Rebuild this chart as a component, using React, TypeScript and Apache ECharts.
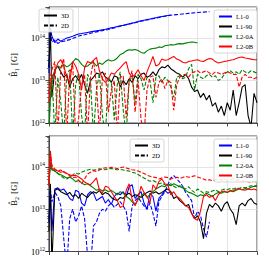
import React, { useEffect, useRef } from "react";
import * as echarts from "echarts";

// sample times (x axis has no labels; 7 equal intervals)
const T: number[] = [0, 0.05];
for (let k = 1; k <= 70; k++) T.push(k / 10);

const UNIT = 1e12; // values below are in units of 1e12 G

// ---- top panel (B1) ----
const top_L10_3D = [20, 180,
  110, 78, 95, 84, 92, 100, 105, 110, 118, 125,
  128, 132, 136, 140, 144, 148, 152, 157, 162, 168,
  174, 180, 187, 194, 200, 208, 216, 225, 234, 245,
  255, 264, 273, 282, 292, 302, 312, 322, 332, 342,
  350];
const top_L10_2D = [15, 140,
  80, 90, 75, 82, 84, 88, 92, 98, 105, 112,
  116, 120, 125, 130, 135, 140, 145, 150, 155, 160,
  167, 174, 182, 190, 198, 206, 214, 222, 231, 240,
  250, 258, 268, 277, 286, 296, 306, 316, 326, 336,
  346, 352, 358, 364, 370, 376, 382, 388, 394, 400,
  405, 410, 415, 420];
const top_L190_3D = [20, 160,
  4, 18, 22, 16, 12, 14, 7, 11, 13, 10,
  14, 8, 5, 10, 12, 15, 14, 16, 12, 11,
  9, 13, 12, 7, 10, 8, 11, 9, 13, 11,
  14, 15, 12, 13, 16, 13, 18, 21, 20, 23,
  19, 17, 15, 14, 12, 14, 11, 7, 5.5, 6,
  4, 5, 3.5, 4.5, 2.5, 3, 1.8, 2.5, 1.5, 3,
  2, 6, 1.5, 3, 7, 8, 1.5, 0.8, 5, 3];
const top_L20A_3D = [0.5, 4,
  10, 18, 22, 20, 24, 21, 23, 27, 33, 30,
  24, 21, 22, 25, 27, 22, 26, 24, 28, 31,
  29, 30, 34, 41, 44, 50, 53, 52, 54, 51,
  46, 44, 50, 55, 57, 58, 62, 60, 66, 68,
  70, 69, 72, 74, 73, 76, 79, 81, 80, 77];
const top_L20A_2D = [0.5, 6,
  15, 0.5, 12, 3, 0.5, 14, 18, 0.5, 8, 15,
  1.5, 0.5, 14, 10, 0.5, 6, 15, 1.5, 0.5, 12,
  9, 1.2, 8, 16, 2, 0.5, 10, 12, 3, 14,
  11, 6, 12, 10, 3, 12, 13, 9, 12, 10,
  7, 4, 12, 13, 11, 12, 19, 24, 6, 14,
  12, 11, 13, 14, 12, 13, 10, 11, 14, 16,
  17, 15, 16, 14, 18, 16, 15, 17, 16, 15];
const top_L20B_3D = [3, 8,
  12, 16, 26, 31, 22, 12, 9, 28, 22, 14,
  6, 20, 28, 26, 30, 35, 17, 11, 9, 11,
  15, 14, 17, 20, 24, 28, 15, 12, 14, 18,
  13, 10, 16, 24, 37, 22, 24, 32, 30, 31,
  34, 37, 32, 30, 27, 26, 28, 29, 30, 31,
  29, 28, 31, 33, 32, 28, 26, 27, 28, 29,
  30, 31, 33, 35, 36, 34, 33, 32, 31, 31];
const top_L20B_2D = [5, 12,
  18, 28, 0.5, 20, 33, 0.5, 15, 25, 0.5, 1.3,
  8, 14, 0.5, 12, 30, 8, 0.6, 12, 15, 1.8,
  6, 10, 0.5, 12, 13, 1.3, 10, 17, 1.8, 10,
  1.2, 0.5, 6, 12, 13, 4, 9, 11, 6.5, 10,
  9, 2, 8, 12, 13.5, 14, 12, 15, 16, 17,
  15, 16, 17, 15, 14, 16, 15, 14, 15, 16,
  15, 14, 14, 7, 12, 14, 12, 12, 11, 12];

// ---- bottom panel (B2) ----
const bot_L10_3D = [5, 28,
  3, 30, 32, 28, 30, 24, 18, 16, 28, 26,
  14, 12, 22, 26, 24, 16, 18, 20, 14, 17,
  13, 20, 24, 22, 26, 20, 34, 38, 18, 22,
  26, 14, 10, 24, 20, 9, 18, 22, 28, 24,
  26];
const bot_L10_2D = [6, 30,
  15, 25, 20, 12, 2, 0.4, 6, 10, 5, 7,
  12, 6, 0.8, 0.4, 4, 5, 8, 10, 9, 12,
  14, 11, 13, 15, 12, 9, 3, 12, 16, 19,
  15, 12, 10, 14, 8, 4, 15, 20, 26, 38,
  55, 62, 52, 44, 35, 25, 20, 16, 6, 9,
  7, 3.5, 2.2, 5];
const bot_L190_3D = [3, 40,
  0.5, 28, 30, 26, 24, 22, 25, 20, 22, 18,
  24, 21, 19, 23, 26, 24, 28, 22, 25, 23,
  19, 17, 16, 19, 18, 22, 24, 20, 22, 21,
  19, 22, 25, 27, 24, 26, 23, 25, 28, 30,
  26, 18, 20, 16, 14, 12, 13, 8, 6, 7,
  5, 2, 8, 13, 11, 14, 12, 9, 13, 15,
  10, 8, 4.3, 12, 14, 12, 16, 18, 14, 13];
const bot_L20A_3D = [38, 110,
  85, 80, 70, 65, 60, 55, 58, 52, 45, 48,
  42, 38, 40, 36, 32, 28, 30, 27, 29, 26,
  28, 25, 22, 26, 24, 20, 18, 15, 13, 17,
  20, 24, 19, 22, 26, 30, 33, 36, 34, 38,
  36, 40, 37, 34, 32, 28, 25, 24, 22, 20,
  22, 21, 24, 22, 20, 23, 25, 24, 26, 25,
  27, 26, 28, 30, 29, 31, 30, 33, 35, 34];
const bot_L20A_2D = [40, 130,
  90, 80, 70, 62, 55, 52, 58, 65, 72, 68,
  75, 80, 85, 88, 84, 86, 90, 88, 86, 90,
  92, 88, 86, 88, 85, 82, 80, 75, 72, 66,
  60, 55, 50, 46, 48, 44, 40, 42, 38, 36,
  40, 35, 32, 36, 33, 30, 34, 28, 25, 30,
  27, 24, 26, 25, 27, 29, 26, 28, 30, 29,
  31, 30, 32, 31, 33, 32, 34, 36, 35, 37];
const bot_L20B_3D = [40, 240,
  95, 85, 80, 75, 78, 70, 65, 62, 64, 58,
  52, 44, 40, 38, 45, 55, 28, 24, 35, 33,
  26, 20, 16, 11, 12, 28, 40, 17, 12, 18,
  35, 25, 20, 14, 38, 30, 45, 52, 40, 38,
  22, 26, 20, 18, 15, 12, 11, 8, 6, 5.5,
  9, 20, 22, 19, 21, 16, 22, 26, 27, 25,
  28, 27, 30, 31, 29, 28, 30, 29, 30, 28];
const bot_L20B_2D = [35, 200,
  110, 90, 80, 85, 75, 70, 62, 55, 58, 48,
  40, 52, 68, 75, 82, 78, 85, 92, 96, 94,
  98, 95, 92, 96, 100, 95, 90, 86, 84, 80,
  75, 70, 64, 60, 58, 56, 52, 55, 58, 56,
  52, 55, 57, 54, 56, 60, 57, 59, 62, 58,
  55, 52, 48, 50, 47, 50, 52, 49, 51, 48,
  50, 52, 48, 50, 46, 48, 45, 44, 46, 43];

const CASES = ["L1-0", "L1-90", "L2-0A", "L2-0B"];
const COLORS = ["#0000ff", "#000000", "#008000", "#ff0000"];
const STYLE_NAMES = ["3D", "2D"];
const Y_MIN = 1e12;
const Y_MAX = 5.4e14;
const X_MAX = 7;

const FONT = "Liberation Serif";
const DASH = [4, 1.8];

function pts(vals: number[]) {
  return vals.map((v, i) => [T[i], v * UNIT]);
}

function lineSeries(name: string, vals: number[], color: string, dashed: boolean, g: number) {
  return {
    type: "line",
    name,
    data: pts(vals),
    xAxisIndex: g,
    yAxisIndex: g,
    symbol: "none",
    showSymbol: false,
    clip: true,
    silent: true,
    lineStyle: { color, width: 1.1, type: dashed ? DASH : "solid" },
    itemStyle: { color },
  };
}

function xAxisCfg(g: number) {
  return {
    type: "value",
    gridIndex: g,
    min: 0,
    max: X_MAX,
    interval: 1,
    axisLabel: { show: false },
    axisTick: { show: true, length: 3.5, lineStyle: { color: "#222", width: 0.8 } },
    axisLine: { show: true, lineStyle: { color: "#222", width: 0.8 } },
    splitLine: { show: true, lineStyle: { color: "#dddddd", width: 0.8 } },
  };
}

function yAxisCfg(g: number, idx: string) {
  return {
    type: "log",
    logBase: 10,
    gridIndex: g,
    min: Y_MIN,
    max: Y_MAX,
    name: "{b|B\u0302}{s|" + idx + "} {b|[G]}",
    nameLocation: "middle",
    nameRotate: 90,
    nameGap: 22,
    nameTextStyle: {
      rich: {
        b: { fontFamily: FONT, fontSize: 8.5, color: "#000" },
        s: { fontFamily: FONT, fontSize: 6, color: "#000", verticalAlign: "bottom", padding: [4, 0, 0, 0] },
      },
    },
    axisLabel: {
      showMaxLabel: false,
      margin: 4,
      formatter: (v: number) => "{b|10}{s|" + Math.round(Math.log10(v)) + "}",
      rich: {
        b: { fontFamily: FONT, fontSize: 8.5, color: "#000" },
        s: { fontFamily: FONT, fontSize: 5.5, color: "#000", verticalAlign: "top", padding: [0, 0, 5, 0] },
      },
    },
    axisTick: { show: true, length: 3.5, lineStyle: { color: "#222", width: 0.8 } },
    minorTick: { show: true, splitNumber: 9, length: 2, lineStyle: { color: "#222", width: 0.6 } },
    axisLine: { show: true, lineStyle: { color: "#222", width: 0.8 } },
    splitLine: { show: true, lineStyle: { color: "#dddddd", width: 0.8 } },
  };
}

function legendCfg(data: string[], left: number, top: number) {
  return {
    data,
    orient: "vertical",
    left,
    top,
    itemWidth: 13,
    itemHeight: 6,
    itemGap: 3,
    padding: [3, 4, 3, 4],
    selectedMode: false,
    itemStyle: { opacity: 0 },
    backgroundColor: "rgba(255,255,255,0.85)",
    borderColor: "#cccccc",
    borderWidth: 0.8,
    borderRadius: 2,
    textStyle: { fontFamily: FONT, fontSize: 6.5, color: "#000", padding: [0, 0, 0, -1] },
  };
}

export default function App() {
  const ref = useRef<HTMLDivElement>(null);
  useEffect(() => {
    if (!ref.current) return;
    const chart = echarts.init(ref.current, null, { renderer: "svg" });
    const topSets = [
      [top_L10_3D, top_L10_2D],
      [top_L190_3D, null],
      [top_L20A_3D, top_L20A_2D],
      [top_L20B_3D, top_L20B_2D],
    ];
    const botSets = [
      [bot_L10_3D, bot_L10_2D],
      [bot_L190_3D, null],
      [bot_L20A_3D, bot_L20A_2D],
      [bot_L20B_3D, bot_L20B_2D],
    ];
    const series: any[] = [];
    [topSets, botSets].forEach((sets, g) => {
      sets.forEach((pair, c) => {
        const [solid, dashed] = pair as any;
        if (solid) series.push(lineSeries(CASES[c], solid, COLORS[c], false, g));
        if (dashed) series.push(lineSeries(CASES[c] + " (2D)", dashed, COLORS[c], true, g));
      });
    });
    // proxy entries for the line-style legend
    series.push({ ...lineSeries(STYLE_NAMES[0], [], "#000", false, 0) });
    series.push({ ...lineSeries(STYLE_NAMES[1], [], "#000", true, 0) });

    chart.setOption({
      animation: false,
      backgroundColor: "#ffffff",
      grid: [
        { left: 37, top: 7, width: 220, height: 116, show: true, borderColor: "#222", borderWidth: 0.8 },
        { left: 37, top: 136, width: 220, height: 116, show: true, borderColor: "#222", borderWidth: 0.8 },
      ],
      xAxis: [xAxisCfg(0), xAxisCfg(1)],
      yAxis: [yAxisCfg(0, "1"), yAxisCfg(1, "2")],
      legend: [
        legendCfg(STYLE_NAMES, 39, 9),
        legendCfg(CASES, 214, 10),
        legendCfg(STYLE_NAMES, 130, 139),
        legendCfg(CASES, 214, 139),
      ],
      series,
    });
    return () => chart.dispose();
  }, []);
  return (
    <div
      ref={ref}
      style={{ position: "fixed", left: 0, top: 0, width: 269, height: 256, background: "#fff" }}
    />
  );
}
